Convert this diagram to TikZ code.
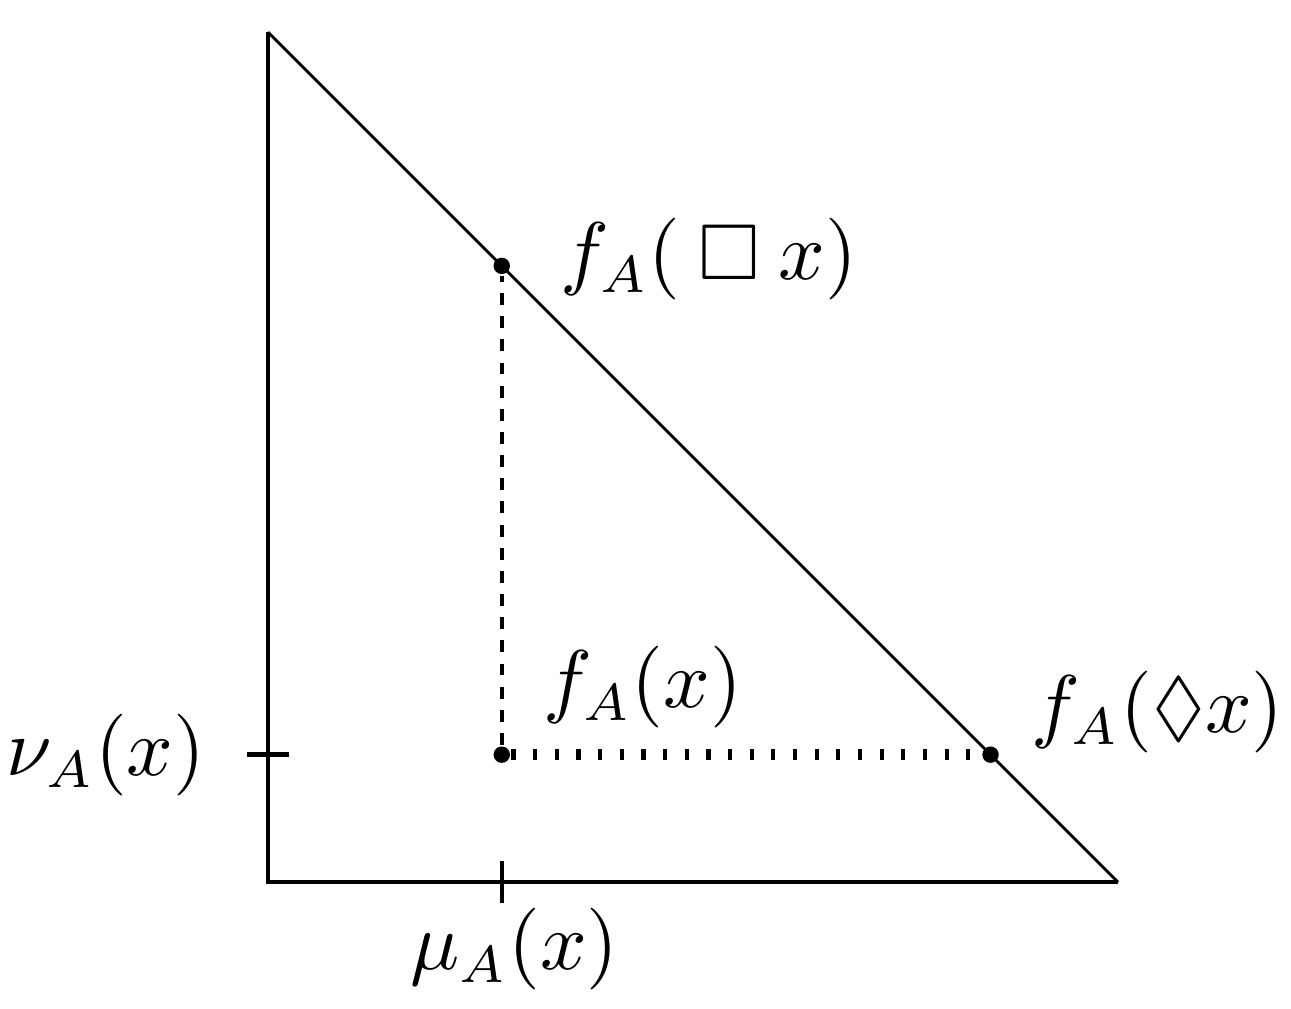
\documentclass[tikz,border=0pt]{standalone}
\usepackage{amsmath,amssymb}
\usepackage{tikz}
\usetikzlibrary{calc}

\begin{document}
\begin{tikzpicture}[
    every node/.style={font=\fontsize{10.6}{12}\selectfont},
    axis/.style={line width=0.6pt},
    tickmark/.style={line width=0.6pt},
    dot/.style={circle,fill,inner sep=0pt,minimum size=2.2pt},
    dashedline/.style={line width=0.5pt,dash pattern=on 1.6pt off 1.5pt},
    dottedline/.style={line width=1.4pt,dash pattern=on 0.55pt off 2.35pt}]
    \useasboundingbox (-1.261,-0.593) rectangle (4.814,4.151);
    \coordinate (o) at (0,0);
    \coordinate (top) at (0,4);
    \coordinate (right) at (4,0);
    \draw [axis] (top) -- (o) -- (right);% the two legs
    \draw [line width=0.4pt] (top) -- (right);% hypotenuse mu + nu = 1
    \coordinate (mu) at (1.1,0);
    \coordinate (nu) at (0,0.6);
    \draw [tickmark] ($(mu)+(0,-0.1)$) -- ($(mu)+(0,0.1)$);
    \draw [tickmark] ($(nu)+(-0.1,0)$) -- ($(nu)+(0.1,0)$);
    \node (nulab) [left] at (-0.17,0.6) {$\nu_A(x)$};
    \node (mulab) [below,xshift=0.06cm] at (mu) {$\mu_A(x)$};
    \node (fx) [dot] at (1.1,0.6) {};
    \node (fbox) [dot] at (1.1,2.9) {};
    \node (fdia) [dot] at (3.4,0.6) {};
    \draw [dashedline] (fx) -- (fbox);
    \draw [dottedline] (fx) -- (fdia);
    \node (fxlab) [above right,xshift=2pt] at (fx) {$f_A(x)$};
    \node (fboxlab) [right,xshift=0.15cm,yshift=0.03cm] at (fbox) {$f_A(\:\square\:x)$};
    \node (fdialab) [right,xshift=0.07cm,yshift=0.2cm] at (fdia) {$f_A(\Diamond x)$};
\end{tikzpicture}
\end{document}
